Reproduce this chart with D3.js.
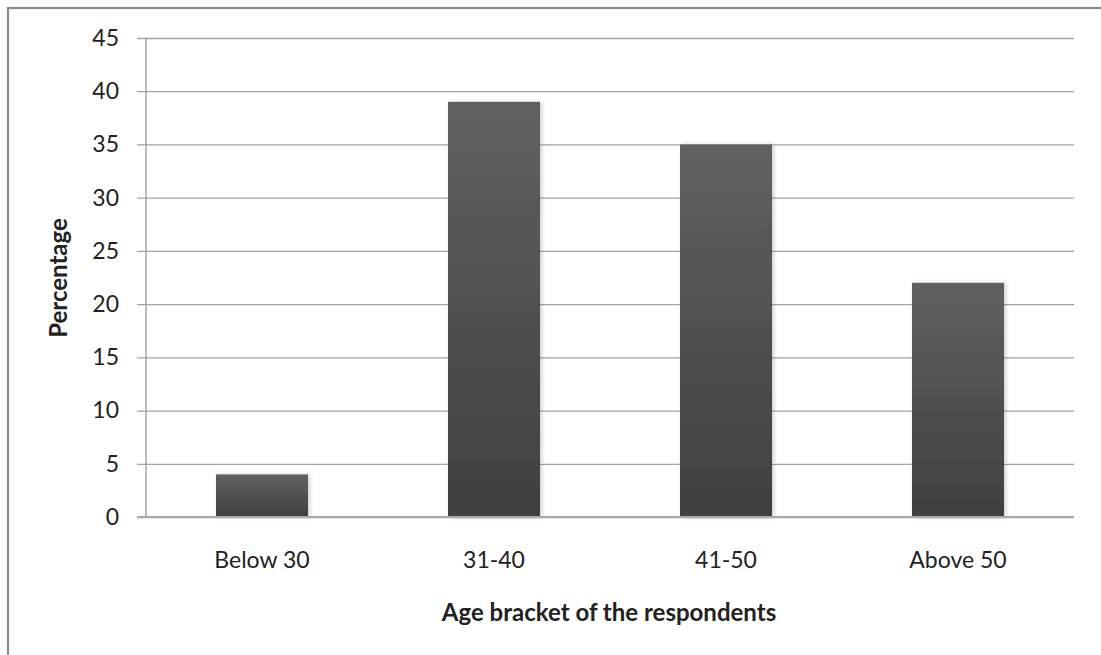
<!DOCTYPE html>
<html>
<head>
<meta charset="utf-8">
<script src="https://cdn.jsdelivr.net/npm/d3@7"></script>
<style>
  html, body { margin: 0; padding: 0; background: #fff; }
  svg { display: block; }
  text { font-family: "Lato", "Open Sans", sans-serif; fill: #222; }
</style>
</head>
<body>
<svg id="chart" width="1101" height="655"></svg>
<script>
// Share of respondents by age bracket
const categories = ["Below 30", "31-40", "41-50", "Above 50"];
const percentages = [4, 39, 35, 22];
const yTicks = [0, 5, 10, 15, 20, 25, 30, 35, 40, 45];

const svg = d3.select("#chart");
const W = 1101, H = 655;
const plot = { left: 146, right: 1074, top: 38, bottom: 517 };
const FONT = "Lato, 'Open Sans', sans-serif";

// chart frame (runs off the right and bottom edges)
svg.append("rect")
  .attr("x", 8).attr("y", 8)
  .attr("width", W + 10).attr("height", H + 10)
  .attr("fill", "#fff")
  .attr("stroke", "#8c8c8c").attr("stroke-width", 2.2);

const x = d3.scaleBand()
  .domain(categories)
  .range([plot.left, plot.right])
  .paddingInner(0.6034)
  .paddingOuter(0.3017);

const y = d3.scaleLinear().domain([0, 45]).range([plot.bottom, plot.top]);

const defs = svg.append("defs");
const grad = defs.append("linearGradient")
  .attr("id", "barFill").attr("x1", 0).attr("y1", 0).attr("x2", 0).attr("y2", 1);
grad.append("stop").attr("offset", "0%").attr("stop-color", "#616161");
grad.append("stop").attr("offset", "100%").attr("stop-color", "#3f3f3f");

const shadow = defs.append("filter").attr("id", "barShadow")
  .attr("x", "-10%").attr("y", "-10%").attr("width", "130%").attr("height", "120%");
shadow.append("feDropShadow")
  .attr("dx", 2).attr("dy", 0).attr("stdDeviation", 2)
  .attr("flood-color", "#000").attr("flood-opacity", 0.18);

// horizontal gridlines + y axis
const yAxis = d3.axisLeft(y)
  .tickValues(yTicks)
  .tickSize(-(plot.right - plot.left))
  .tickPadding(27)
  .tickFormat(d3.format("d"));

const gy = svg.append("g")
  .attr("transform", `translate(${plot.left},0)`)
  .call(yAxis);
gy.select(".domain").remove();
gy.selectAll(".tick line")
  .attr("x1", -9)
  .attr("stroke", "#a3a3a3").attr("stroke-width", 1.3);
gy.selectAll(".tick text")
  .attr("font-size", 23).attr("fill", "#222")
  .style("font-family", FONT);

// vertical axis line
svg.append("line")
  .attr("x1", plot.left).attr("x2", plot.left)
  .attr("y1", plot.top).attr("y2", plot.bottom)
  .attr("stroke", "#9a9a9a").attr("stroke-width", 1.3);

// bars
svg.append("g").selectAll("rect")
  .data(categories.map((c, i) => ({ c, v: percentages[i] })))
  .join("rect")
  .attr("x", d => x(d.c))
  .attr("width", x.bandwidth())
  .attr("y", d => y(d.v))
  .attr("height", d => y(0) - y(d.v))
  .attr("fill", "url(#barFill)")
  .attr("filter", "url(#barShadow)");

// x axis baseline and labels
const xAxis = d3.axisBottom(x).tickSize(0).tickPadding(35);
const gx = svg.append("g")
  .attr("transform", `translate(0,${plot.bottom})`)
  .call(xAxis);
gx.select(".domain").remove();
gx.selectAll(".tick text")
  .attr("font-size", 23).attr("fill", "#222")
  .style("font-family", FONT);

svg.append("line")
  .attr("x1", plot.left - 9).attr("x2", plot.right)
  .attr("y1", plot.bottom).attr("y2", plot.bottom)
  .attr("stroke", "#a8a8a8").attr("stroke-width", 2);

// axis titles
svg.append("text")
  .attr("x", 609)
  .attr("y", 621)
  .attr("text-anchor", "middle")
  .attr("font-size", 24).attr("font-weight", "bold")
  .text("Age bracket of the respondents");

svg.append("text")
  .attr("transform", `translate(67,278) rotate(-90)`)
  .attr("text-anchor", "middle")
  .attr("font-size", 24).attr("font-weight", "bold")
  .text("Percentage");
</script>
</body>
</html>
